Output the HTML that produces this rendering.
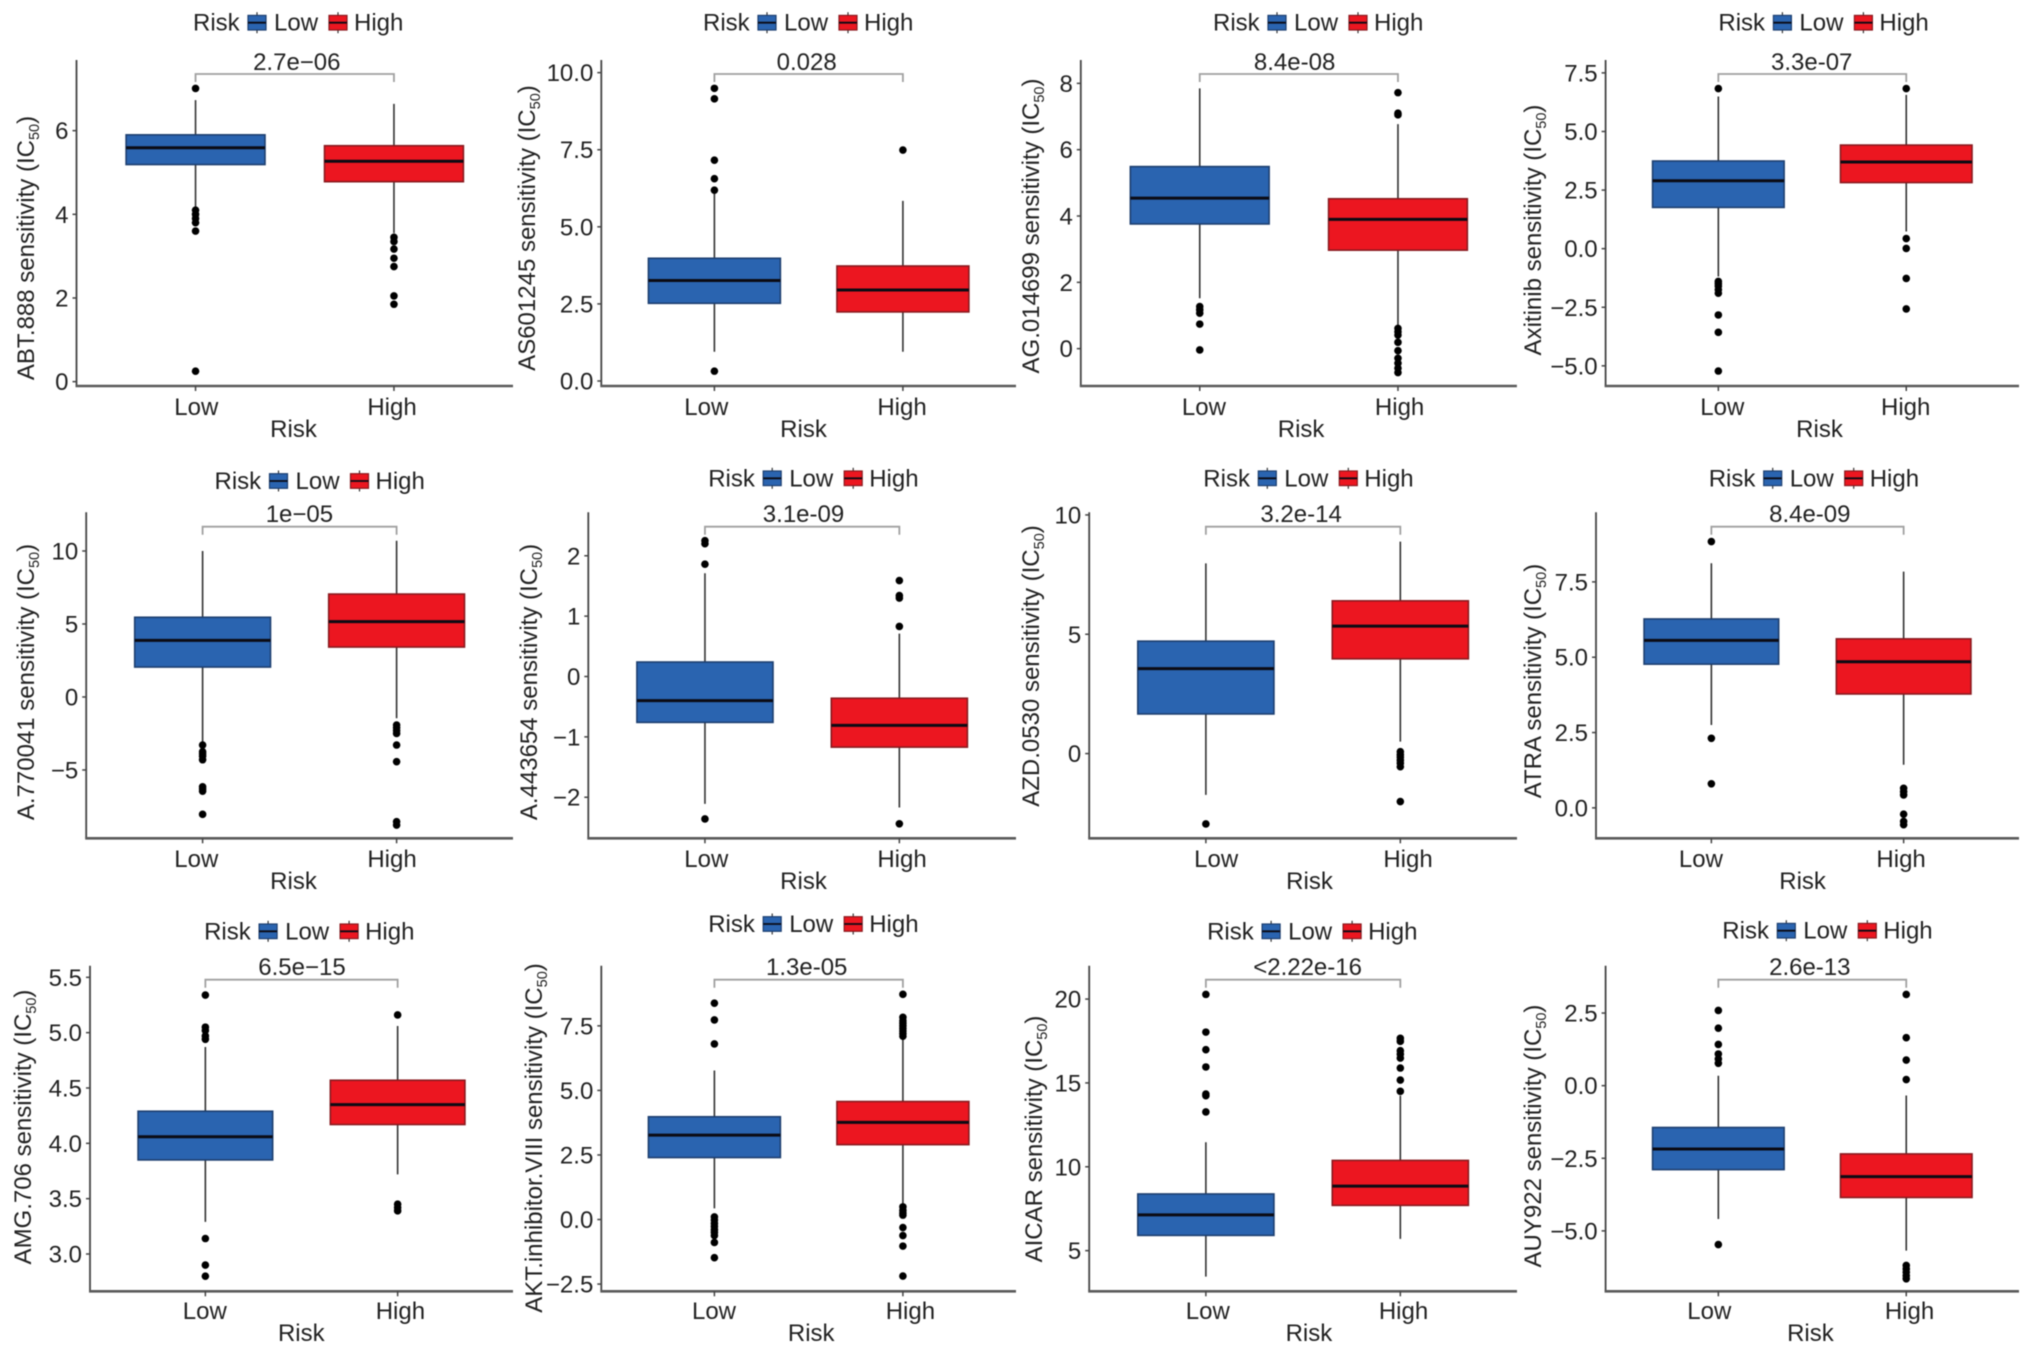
<!DOCTYPE html>
<html lang="en">
<head>
<meta charset="utf-8">
<title>IC50 sensitivity boxplots by risk group</title>
<style>
html,body{margin:0;padding:0;background:#fff;width:2032px;height:1354px;overflow:hidden}
svg{display:block;filter:blur(.5px)}
text{font-family:"Liberation Sans",sans-serif;font-size:24px;fill:#222}
</style>
</head>
<body>
<svg id="chart" xmlns="http://www.w3.org/2000/svg" width="2032" height="1354" viewBox="0 0 2032 1354"></svg>
<script>
const drugs = ["ABT.888","AS601245","AG.014699","Axitinib","A.770041","A.443654","AZD.0530","ATRA","AMG.706","AKT.inhibitor.VIII","AICAR","AUY922"];
const pLabels = ["2.7e\u221206","0.028","8.4e-08","3.3e-07","1e\u221205","3.1e-09","3.2e-14","8.4e-09","6.5e\u221215","1.3e-05","<2.22e-16","2.6e-13"];
const groups = ["Low","High"];
const yTicks = [
  [0,2,4,6],
  [0,2.5,5,7.5,10],
  [0,2,4,6,8],
  [-5,-2.5,0,2.5,5,7.5],
  [-5,0,5,10],
  [-2,-1,0,1,2],
  [0,5,10],
  [0,2.5,5,7.5],
  [3,3.5,4,4.5,5,5.5],
  [-2.5,0,2.5,5,7.5],
  [5,10,15,20],
  [-5,-2.5,0,2.5]
];
const yTickDecimals = [0,1,0,1,0,0,0,1,1,1,0,1];
const yDomains = [
  [-0.104,7.689],[-0.162,10.41],[-1.126,8.704],[-5.86,8.05],
  [-9.68,12.65],[-2.68,2.72],[-3.55,10.11],[-1.01,9.81],
  [2.663,5.605],[-2.78,9.83],[2.576,21.99],[-7.08,4.13]
];
/* each entry: whisker low, q1, median, q3, whisker high */
const lowStats = [
  [4.18,5.19,5.59,5.90,6.73],
  [0.95,2.52,3.26,3.98,6.09],
  [1.52,3.76,4.54,5.49,7.85],
  [-1.19,1.76,2.90,3.74,6.49],
  [-3.06,2.05,3.88,5.46,10.0],
  [-2.11,-0.76,-0.40,0.24,1.71],
  [-1.73,1.66,3.56,4.71,7.97],
  [2.75,4.77,5.56,6.27,8.12],
  [3.29,3.85,4.06,4.29,4.87],
  [0.43,2.40,3.27,3.98,5.77],
  [3.45,5.91,7.13,8.38,11.46],
  [-4.59,-2.89,-2.18,-1.44,0.34]
];
const highStats = [
  [3.55,4.78,5.27,5.64,6.64],
  [0.95,2.24,2.95,3.73,5.84],
  [0.71,2.97,3.90,4.52,6.77],
  [0.73,2.82,3.70,4.42,6.56],
  [-1.46,3.42,5.16,7.05,10.7],
  [-2.17,-1.17,-0.81,-0.36,0.71],
  [0.50,3.97,5.34,6.40,8.88],
  [1.43,3.78,4.85,5.61,7.84],
  [3.72,4.17,4.35,4.57,5.06],
  [0.55,2.90,3.76,4.57,7.0],
  [5.70,7.70,8.85,10.38,14.24],
  [-5.68,-3.85,-3.13,-2.35,-0.34]
];
const lowOutliers = [
  [7.01,4.1,4.0,3.9,3.8,3.6,0.25],
  [9.49,9.15,7.16,6.56,6.19,0.32],
  [1.27,1.17,1.07,0.74,-0.04],
  [6.83,-1.4,-1.5,-1.6,-1.75,-1.9,-2.83,-3.57,-5.22],
  [-3.29,-3.75,-3.9,-4.05,-4.3,-6.15,-6.3,-6.45,-8.04],
  [2.25,2.2,1.86,-2.36],
  [-2.95],
  [8.84,2.31,0.80],
  [5.34,5.05,5.02,4.97,4.94,3.14,2.90,2.80],
  [8.38,7.73,6.80,0.1,-0.02,-0.15,-0.27,-0.4,-0.5,-0.62,-0.89,-1.48],
  [20.28,18.03,16.98,15.95,14.34,14.24,13.27],
  [2.59,1.98,1.42,1.09,0.92,0.77,-5.47]
];
const highOutliers = [
  [3.45,3.35,3.17,2.95,2.75,2.05,1.85],
  [7.49],
  [7.72,7.10,7.05,0.61,0.51,0.41,0.19,-0.06,-0.29,-0.44,-0.59,-0.72],
  [6.83,0.43,0.01,-1.27,-2.57],
  [-1.92,-2.1,-2.3,-2.5,-3.29,-4.43,-8.54,-8.77],
  [1.59,1.34,1.30,0.83,-2.44],
  [0.08,-0.05,-0.15,-0.28,-0.4,-0.55,-2.01],
  [0.65,0.54,0.43,-0.21,-0.45,-0.56],
  [5.16,3.45,3.42,3.39],
  [8.72,7.83,7.7,7.6,7.5,7.4,7.3,7.2,7.1,0.49,0.35,0.25,0.17,-0.31,-0.62,-1.03,-2.19],
  [17.66,17.48,16.92,16.72,16.48,15.89,15.17,14.5],
  [3.14,1.65,0.88,0.21,-6.19,-6.31,-6.42,-6.54,-6.65]
];

/* Page layout, separate from the data: one record per panel */
const panelLayout = [
  {l:76.5,r:513,t:60,b:386,legX:193,legY:22.7,lowX:196.3,highX:392,xLabY:415,riskX:293.5,riskY:437,titleX:26,titleY:248,pX:296.8,pY:70,brY:74},
  {l:601.3,r:1016,t:60,b:386,legX:703,legY:22.7,lowX:706.3,highX:902,xLabY:415,riskX:803.5,riskY:437,titleX:527,titleY:228,pX:806.7,pY:70,brY:74},
  {l:1080.8,r:1516.9,t:60,b:386,legX:1213,legY:22.7,lowX:1203.9,highX:1399.6,xLabY:415,riskX:1301.1,riskY:437,titleX:1031,titleY:226,pX:1294.6,pY:70,brY:74},
  {l:1605.6,r:2019,t:60,b:386,legX:1718.4,legY:22.7,lowX:1722.3,highX:1905.7,xLabY:415,riskX:1819.5,riskY:437,titleX:1533,titleY:230,pX:1811.7,pY:70,brY:74},
  {l:86.2,r:513,t:512.3,b:838.3,legX:214.5,legY:481,lowX:196.3,highX:392,xLabY:867,riskX:293.5,riskY:889,titleX:26,titleY:682,pX:299.4,pY:522,brY:526.7},
  {l:588.3,r:1016,t:512.3,b:838.3,legX:708.2,legY:478.3,lowX:706.3,highX:902,xLabY:867,riskX:803.5,riskY:889,titleX:529,titleY:682,pX:803.5,pY:522,brY:526.7},
  {l:1089.2,r:1517,t:512.3,b:838.3,legX:1203.3,legY:478.3,lowX:1216.2,highX:1408,xLabY:867,riskX:1309.5,riskY:889,titleX:1031,titleY:666,pX:1301.1,pY:522,brY:526.7},
  {l:1596,r:2019,t:512.3,b:838.3,legX:1708.7,legY:478.3,lowX:1700.9,highX:1901.1,xLabY:867,riskX:1802.6,riskY:889,titleX:1533,titleY:681,pX:1809.8,pY:522,brY:526.7},
  {l:90,r:513,t:965.7,b:1291.3,legX:204.1,legY:931.3,lowX:204.8,highX:400.4,xLabY:1319,riskX:301.3,riskY:1341,titleX:23,titleY:1127,pX:302,pY:975,brY:979.7},
  {l:601.3,r:1016,t:965.7,b:1291.3,legX:708.2,legY:924,lowX:714,highX:910.4,xLabY:1319,riskX:811.2,riskY:1341,titleX:534,titleY:1138,pX:806.7,pY:975,brY:979.7},
  {l:1089.2,r:1517,t:965.7,b:1291.3,legX:1207.1,legY:931.3,lowX:1207.8,highX:1403.5,xLabY:1319,riskX:1308.9,riskY:1341,titleX:1034,titleY:1139,pX:1307.6,pY:975,brY:979.7},
  {l:1605.6,r:2019,t:965.7,b:1291.3,legX:1722.3,legY:930.7,lowX:1709.3,highX:1909.5,xLabY:1319,riskX:1810.4,riskY:1341,titleX:1533,titleY:1136,pX:1809.8,pY:975,brY:979.7}
];
const fills = ["#2a64b0","#ec1620"];
const strokes = ["#1d3f70","#8a1a1f"];

const NS = "http://www.w3.org/2000/svg";
const svg = document.getElementById("chart");

function node(parent, tag, attrs, content){
  const el = document.createElementNS(NS, tag);
  for (const k in attrs) el.setAttribute(k, attrs[k]);
  if (content !== undefined) el.textContent = content;
  parent.appendChild(el);
  return el;
}
function line(parent, x1, y1, x2, y2, stroke, width){
  return node(parent, "line", {x1:x1, y1:y1, x2:x2, y2:y2, stroke:stroke, "stroke-width":width});
}
function label(parent, x, y, anchor, content){
  return node(parent, "text", {x:x, y:y, "text-anchor":anchor}, content);
}
function formatTick(v, decimals){
  const s = Math.abs(v).toFixed(decimals);
  return (v < 0 ? "\u2212" : "") + s;
}

drugs.forEach(function(drug, i){
  const f = panelLayout[i];
  const dom = yDomains[i];
  const yScale = function(v){ return f.b - (v - dom[0]) / (dom[1] - dom[0]) * (f.b - f.t); };
  const step = (f.r - f.l) / 2.2;
  const xScale = function(g){ return f.l + (g + 0.6) * step; };
  const boxW = step * 0.7;

  const panel = node(svg, "g", {});
  
  

  /* axes */
  const yAxis = line(panel, f.l, f.t, f.l, f.b, "#444", 1.8);
  
  
  const xAxis = line(panel, f.l - 1, f.b, f.r, f.b, "#5a5a5a", 2.6);
  
  

  yTicks[i].forEach(function(v){
    const y = yScale(v);
    const tick = line(panel, f.l - 4, y, f.l, y, "#444", 1.5);
    
    
    const tl = label(panel, f.l - 8, y + 8.5, "end", formatTick(v, yTickDecimals[i]));
    
    
  });

  /* y title with subscript */
  const title = node(panel, "text", {x:f.titleX + 8, y:f.titleY, "text-anchor":"middle",
    transform:"rotate(-90 " + (f.titleX + 8) + " " + f.titleY + ")", fill:"#333"});
  
  
  node(title, "tspan", {}, drug + " sensitivity (IC");
  node(title, "tspan", {dy:5, "font-size":"14.5"}, "50");
  node(title, "tspan", {dy:-5}, ")");

  /* x axis ticks and labels */
  groups.forEach(function(g, gi){
    const tick = line(panel, xScale(gi), f.b, xScale(gi), f.b + 5, "#444", 1.5);
    
    
    const tl = label(panel, gi === 0 ? f.lowX : f.highX, f.xLabY, "middle", g);
    
    
  });
  const xTitle = label(panel, f.riskX, f.riskY, "middle", "Risk");
  
  

  /* significance bracket */
  const bracket = node(panel, "path", {
    d:"M" + xScale(0) + " " + (f.brY + 8) + "V" + f.brY + "H" + xScale(1) + "V" + (f.brY + 8),
    fill:"none", stroke:"#a0a0a0", "stroke-width":1.8});
  
  
  const pText = label(panel, f.pX, f.pY, "middle", pLabels[i]);
  
  

  /* boxes */
  [lowStats[i], highStats[i]].forEach(function(s, gi){
    const cx = xScale(gi);
    const boxGroup = node(panel, "g", {});
    
    
    const whisker = line(boxGroup, cx, yScale(s[0]), cx, yScale(s[4]), "#333", 1.6);
    
    
    const rect = node(boxGroup, "rect", {x:cx - boxW / 2, y:yScale(s[3]), width:boxW,
      height:yScale(s[1]) - yScale(s[3]), fill:fills[gi], stroke:strokes[gi], "stroke-width":1.6});
    
    
    const med = line(boxGroup, cx - boxW / 2, yScale(s[2]), cx + boxW / 2, yScale(s[2]), "#0b0b14", 3);
    
    
  });

  /* outliers */
  [lowOutliers[i], highOutliers[i]].forEach(function(list, gi){
    list.forEach(function(v){
      const dot = node(panel, "circle", {cx:xScale(gi), cy:yScale(v), r:3.8, fill:"#000"});
      
      
    });
  });

  /* legend */
  const legend = node(panel, "g", {});
  
  
  const legTitle = label(legend, f.legX, f.legY + 8, "start", "Risk");
  
  
  groups.forEach(function(g, gi){
    const keyX = f.legX + (gi === 0 ? 64 : 145);
    const textX = f.legX + (gi === 0 ? 81 : 161);
    const key = node(legend, "g", {});
    
    
    line(key, keyX, f.legY - 10.5, keyX, f.legY + 10.5, "#333", 1.2);
    node(key, "rect", {x:keyX - 9, y:f.legY - 7.3, width:18, height:14.6, fill:fills[gi], stroke:strokes[gi], "stroke-width":1.2});
    line(key, keyX - 9, f.legY, keyX + 9, f.legY, "#0b0b14", 1.8);
    const keyText = label(legend, textX, f.legY + 8, "start", g);
    
    
  });
});
</script>
</body>
</html>
